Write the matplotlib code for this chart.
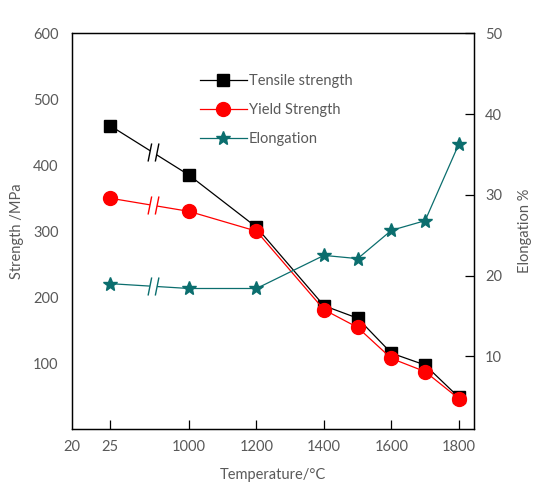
import numpy as np
import matplotlib.pyplot as plt
from matplotlib.path import Path

plt.rcParams['font.family'] = ['Lato', 'DejaVu Sans']

# data
temperature = [25, 1000, 1200, 1400, 1500, 1600, 1700, 1800]
tensile = [460, 385, 306, 187, 168, 115, 97, 48]
yield_strength = [350, 330, 300, 181, 154, 107, 87, 46]
elongation = [19.0, 18.4, 18.4, 22.5, 22.1, 25.6, 26.8, 36.3]
tick_labels = ['20', '25', '1000', '1200', '1400', '1600', '1800']
tick_temps = [20, 25, 1000, 1200, 1400, 1600, 1800]

# broken axis: room temperature squeezed in front of 1000
def to_pos(t):
    t = np.asarray(t, dtype=float)
    return np.where(t >= 1000, t, np.where(t >= 25, 766.0, 654.0))

grey = '#595959'
teal = '#0b6e6e'
fs = 10.5

fig = plt.figure(figsize=(5.43, 4.83), dpi=100)
ax = fig.add_axes([0.1332, 0.1118, 0.7398, 0.8192])
ax2 = ax.twinx()

x = to_pos(temperature)
l1, = ax.plot(x, tensile, color='black', lw=0.9, marker='s', ms=8.5,
              label='Tensile strength', zorder=3)
l2, = ax.plot(x, yield_strength, color='red', lw=0.9, marker='o', ms=10,
              label='Yield Strength', zorder=4)
l3, = ax2.plot(x, elongation, color=teal, lw=0.9, marker='*', ms=10,
               label='Elongation')

# "//" break marks on the first segment
gap = Path([(-0.6, -1), (-0.2, 1), (0.6, 1), (0.2, -1), (-0.6, -1)],
           [Path.MOVETO, Path.LINETO, Path.LINETO, Path.LINETO, Path.CLOSEPOLY])
slashes = Path([(-0.6, -1), (-0.2, 1), (0.2, -1), (0.6, 1)],
               [Path.MOVETO, Path.LINETO, Path.MOVETO, Path.LINETO])
frac = 0.54
bx = x[0] + frac * (x[1] - x[0])
for a, ys, c in [(ax, tensile, 'black'), (ax, yield_strength, 'red'),
                 (ax2, elongation, teal)]:
    by = ys[0] + frac * (ys[1] - ys[0])
    a.plot([bx], [by], marker=gap, ms=13, mfc='white', mec='none', zorder=5)
    a.plot([bx], [by], marker=slashes, ms=13, mfc='none', mec=c, mew=1.0, zorder=6)

ax.set_xlim(654, 1845)
ax.set_ylim(0, 600)
ax2.set_ylim(1, 50)

ax.set_xticks(to_pos(tick_temps))
ax.set_xticklabels(tick_labels)
ax.set_yticks([100, 200, 300, 400, 500, 600])
ax2.set_yticks([10, 20, 30, 40, 50])

ax.tick_params(axis='x', direction='in', length=6.5, width=0.9, colors='black',
               labelcolor=grey, labelsize=fs, pad=8)
ax.tick_params(axis='y', length=0, labelcolor=grey, labelsize=fs, pad=10)
ax2.tick_params(axis='y', direction='in', length=6.5, width=0.9,
                labelcolor=grey, labelsize=fs, pad=8)
# no tick mark at the axis start
ax.xaxis.get_major_ticks()[0].tick1line.set_visible(False)

for a in (ax, ax2):
    for s in a.spines.values():
        s.set_linewidth(0.9)

ax.set_xlabel('Temperature/°C', color=grey, fontsize=fs, labelpad=10)
ax.set_ylabel('Strength /MPa', color=grey, fontsize=fs, labelpad=6)
ax2.set_ylabel('Elongation %', color=grey, fontsize=fs, labelpad=11)

leg = ax2.legend(handles=[l1, l2, l3], loc='upper left',
                 bbox_to_anchor=(0.355, 0.862), bbox_transform=fig.transFigure,
                 frameon=False, fontsize=fs, handlelength=3.2,
                 handletextpad=0.15, labelspacing=1.03, borderpad=0)
for t in leg.get_texts():
    t.set_color(grey)

fig.savefig('out.png', dpi=100)
